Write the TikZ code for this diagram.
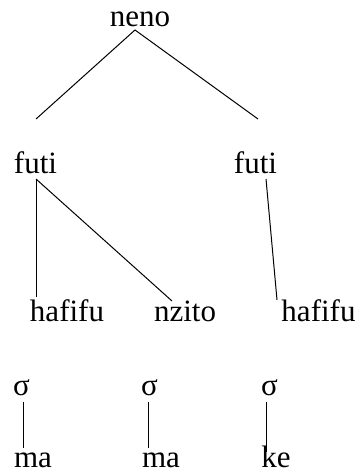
\documentclass[tikz,border=0pt]{standalone}
\usepackage{fontspec}
\setmainfont{Liberation Serif}
\begin{document}
\begin{tikzpicture}[x=1pt,y=-1pt]
\tikzstyle{word}=[inner sep=0pt,anchor=base,font=\fontsize{31}{36}\selectfont]
\tikzstyle{link}=[line width=1pt]
\useasboundingbox (0,0) rectangle (359,473);
%Word level
\node[word] (neno) at (140,27) {neno};

%Foot level
\node[word] (futiL) at (35.5,173) {futi};
\node[word] (futiR) at (255.5,173) {futi};

%Weight level
\node[word] (hafifuL) at (67,321) {hafifu};
\node[word] (nzito)   at (185,321) {nzito};
\node[word] (hafifuR) at (318.5,321) {hafifu};

%Syllable level
\node[word] (sigA) at (21.5,395) {σ};
\node[word] (sigB) at (149.5,395) {σ};
\node[word] (sigC) at (269.5,395) {σ};

%Segments
\node[word] (maA) at (33,467) {ma};
\node[word] (maB) at (161,467) {ma};
\node[word] (ke)  at (276,467) {ke};

% line ends
\coordinate (nenoFoot)   at (135,30);
\coordinate (futiLTop)   at (36,119);
\coordinate (futiRTop)   at (258,119);
\coordinate (futiLFoot)  at (36,179);
\coordinate (futiRFoot)  at (266,179);
\coordinate (hafifuLTop) at (36,297);
\coordinate (nzitoTop)   at (172,301);
\coordinate (hafifuRTop) at (277,300);
\coordinate (sigAFoot)   at (23,402);
\coordinate (sigBFoot)   at (148,402);
\coordinate (sigCFoot)   at (266,402);
\coordinate (maATop)     at (23,448);
\coordinate (maBTop)     at (148,448);
\coordinate (keTop)      at (266,452);

% connections
\draw[link] (futiLTop) -- (nenoFoot) -- (futiRTop);
\draw[link] (futiLFoot) -- (hafifuLTop);
\draw[link] (futiLFoot) -- (nzitoTop);
\draw[link] (futiRFoot) -- (hafifuRTop);

\draw[link] (sigAFoot) -- (maATop);
\draw[link] (sigBFoot) -- (maBTop);
\draw[link] (sigCFoot) -- (keTop);

\end{tikzpicture}
\end{document}
